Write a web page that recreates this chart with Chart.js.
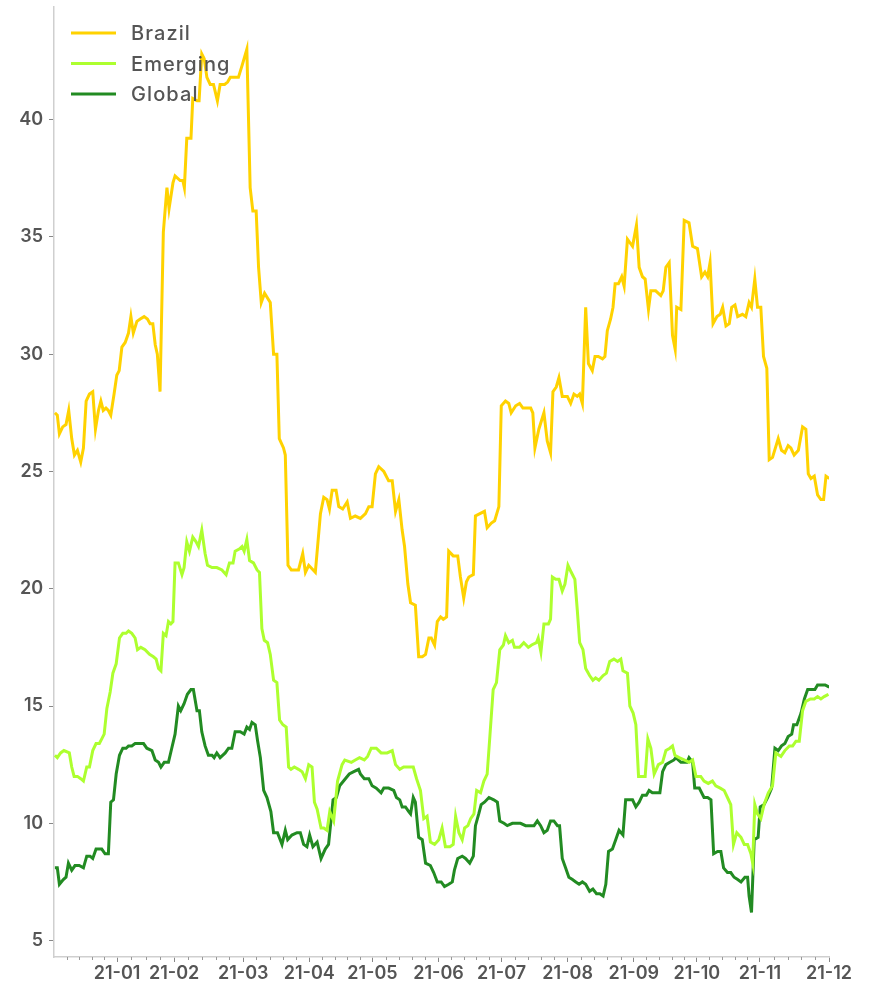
<!DOCTYPE html>
<html lang="en">
  <head>
    <meta charset="UTF-8" />
    <title>Brazil / Emerging / Global</title>
    <style>
      body {
        margin: 0;
        background: #fff;
      }
      #chart {
        display: block;
      }
    </style>
  </head>
  <body>
    <canvas id="chart" width="871" height="981"></canvas>

    <script src="https://cdn.jsdelivr.net/npm/chart.js"></script>
    <script>
      // x = trading-day position since the start of the series
      const monthTicks = [21, 40, 63, 85, 106, 128, 149, 171, 193, 214, 235, 258];
      const monthLabels = ["21-01", "21-02", "21-03", "21-04", "21-05", "21-06",
        "21-07", "21-08", "21-09", "21-10", "21-11", "21-12"];
      const yTicks = [5, 10, 15, 20, 25, 30, 35, 40];

      const brazil = [
        [0.3, 27.5], [1.1, 27.4], [1.8, 26.6], [2.9, 26.9], [4.0, 27.0], [4.9, 27.6], [5.9, 26.4],
        [6.8, 25.7], [7.8, 25.9], [8.9, 25.4], [9.8, 26.0], [10.7, 28.0], [11.8, 28.3], [12.9, 28.4],
        [13.8, 26.8], [14.8, 27.6], [15.6, 28.0], [16.4, 27.6], [17.3, 27.7], [18.1, 27.6], [18.9, 27.4],
        [20.0, 28.3], [20.9, 29.1], [21.7, 29.3], [22.6, 30.3], [23.7, 30.5], [24.8, 30.9], [25.6, 31.6],
        [26.4, 30.9], [27.6, 31.4], [28.7, 31.5], [30.0, 31.6], [31.1, 31.5], [32.0, 31.3], [32.9, 31.3],
        [33.7, 30.4], [34.4, 30.0], [35.3, 28.4], [36.4, 35.2], [37.6, 37.1], [38.3, 36.2], [39.6, 37.3],
        [40.3, 37.6], [42.0, 37.4], [42.9, 37.4], [43.4, 37.1], [44.2, 39.2], [45.6, 39.2], [46.2, 40.9],
        [47.6, 40.8], [48.3, 40.8], [49.2, 42.8], [50.0, 42.6], [50.9, 41.8], [52.0, 41.5], [53.1, 41.5],
        [54.4, 40.8], [55.3, 41.5], [56.8, 41.5], [57.8, 41.6], [58.7, 41.8], [61.4, 41.8], [62.6, 42.3],
        [64.2, 43.0], [65.3, 37.1], [66.2, 36.1], [67.3, 36.1], [68.1, 33.7], [69.0, 32.2], [70.1, 32.6],
        [72.0, 32.2], [73.1, 30.0], [74.2, 30.0], [75.0, 26.4], [76.4, 26.0], [77.0, 25.7], [77.9, 21.0],
        [79.0, 20.8], [81.4, 20.8], [82.8, 21.5], [83.7, 20.7], [84.8, 21.0], [87.0, 20.7], [88.7, 23.2],
        [89.8, 23.9], [90.9, 23.8], [91.7, 23.4], [92.6, 24.2], [93.9, 24.2], [94.8, 23.5], [96.1, 23.4],
        [97.6, 23.7], [98.7, 23.0], [100.3, 23.1], [102.0, 23.0], [103.7, 23.2], [104.8, 23.5], [105.9, 23.5],
        [107.0, 24.9], [108.1, 25.2], [109.8, 25.0], [111.4, 24.6], [112.6, 24.6], [113.7, 23.3], [114.8, 23.8],
        [115.9, 22.5], [116.7, 21.8], [117.8, 20.2], [118.7, 19.4], [120.3, 19.3], [121.4, 17.1], [122.6, 17.1],
        [123.7, 17.2], [124.8, 17.9], [125.6, 17.9], [126.7, 17.6], [127.6, 18.6], [128.7, 18.8], [129.6, 18.7],
        [130.7, 18.8], [131.4, 21.6], [132.9, 21.4], [134.4, 21.4], [135.3, 20.5], [136.4, 19.6], [137.3, 20.3],
        [138.1, 20.5], [139.6, 20.6], [140.3, 23.1], [141.8, 23.2], [143.3, 23.3], [144.2, 22.6], [145.6, 22.8],
        [146.7, 22.9], [148.1, 23.5], [148.9, 27.8], [150.3, 28.0], [151.4, 27.9], [152.2, 27.5], [153.7, 27.8],
        [155.0, 27.9], [156.1, 27.7], [157.6, 27.7], [158.7, 27.7], [159.4, 27.5], [160.1, 26.0], [161.4, 26.8],
        [163.1, 27.5], [164.2, 26.3], [165.3, 25.8], [166.1, 28.4], [167.2, 28.6], [168.1, 29.0], [169.2, 28.2],
        [170.9, 28.2], [172.0, 27.9], [173.1, 28.3], [174.2, 28.2], [175.0, 28.3], [175.9, 27.9], [177.0, 32.0],
        [177.9, 29.6], [179.2, 29.3], [180.1, 29.9], [181.2, 29.9], [182.6, 29.8], [183.4, 29.9], [184.2, 31.0],
        [185.3, 31.5], [186.1, 32.0], [186.8, 33.0], [187.9, 33.0], [189.0, 33.3], [189.8, 32.9], [190.9, 34.9],
        [192.6, 34.6], [193.9, 35.5], [194.8, 33.7], [195.9, 33.3], [196.8, 33.2], [197.9, 31.9], [198.7, 32.7],
        [200.3, 32.7], [202.0, 32.5], [202.8, 32.7], [203.7, 33.7], [204.8, 33.9], [205.9, 30.8], [206.8, 30.2],
        [207.3, 32.0], [208.7, 31.9], [209.8, 35.7], [211.4, 35.6], [212.6, 34.6], [214.2, 34.5], [215.6, 33.3],
        [216.7, 33.5], [217.6, 33.3], [218.4, 33.9], [219.4, 31.3], [220.7, 31.6], [221.8, 31.7], [222.6, 32.0],
        [223.7, 31.2], [224.8, 31.3], [225.6, 32.0], [226.7, 32.1], [227.6, 31.6], [229.2, 31.7], [230.3, 31.6],
        [231.4, 32.2], [232.2, 32.0], [233.3, 33.2], [234.2, 32.0], [235.3, 32.0], [236.2, 29.9], [237.3, 29.4],
        [238.1, 25.5], [239.2, 25.6], [241.1, 26.4], [242.2, 25.9], [243.3, 25.8], [244.4, 26.1], [245.3, 26.0],
        [246.4, 25.7], [247.8, 25.9], [249.2, 26.9], [250.3, 26.8], [251.1, 24.9], [252.0, 24.7], [253.1, 24.8],
        [254.2, 24.0], [255.3, 23.8], [256.2, 23.8], [257.0, 24.8], [258.1, 24.7]
      ];

      const emerging = [
        [0.3, 12.9], [1.1, 12.8], [2.2, 13.0], [3.3, 13.1], [5.1, 13.0], [5.9, 12.4], [6.7, 12.0],
        [7.8, 12.0], [8.9, 11.9], [9.8, 11.8], [10.9, 12.4], [11.8, 12.4], [12.9, 13.1], [14.0, 13.4],
        [15.1, 13.4], [15.9, 13.6], [16.7, 13.8], [17.6, 14.9], [18.7, 15.6], [19.6, 16.4], [20.7, 16.8],
        [21.8, 17.9], [22.9, 18.1], [24.0, 18.1], [24.8, 18.2], [25.9, 18.1], [27.0, 17.9], [27.8, 17.4],
        [28.9, 17.5], [30.3, 17.4], [31.8, 17.2], [33.1, 17.1], [34.0, 17.0], [34.8, 16.6], [35.6, 16.5],
        [36.4, 18.1], [37.3, 18.0], [38.1, 18.6], [38.9, 18.5], [39.6, 18.6], [40.3, 21.1], [41.4, 21.1],
        [42.6, 20.6], [43.3, 20.9], [44.2, 22.0], [45.1, 21.6], [46.2, 22.2], [47.3, 22.0], [48.1, 21.8],
        [49.2, 22.5], [50.3, 21.5], [51.1, 21.0], [52.6, 20.9], [54.2, 20.9], [55.9, 20.8], [57.3, 20.6],
        [58.4, 21.1], [59.6, 21.1], [60.3, 21.6], [61.8, 21.7], [62.6, 21.8], [63.3, 21.6], [64.2, 22.1],
        [65.1, 21.2], [66.4, 21.1], [67.6, 20.8], [68.4, 20.7], [69.2, 18.3], [70.0, 17.8], [71.1, 17.7],
        [72.0, 17.2], [73.1, 16.1], [74.2, 16.0], [75.1, 14.4], [76.2, 14.2], [77.3, 14.1], [78.1, 12.4],
        [78.9, 12.3], [80.0, 12.4], [81.4, 12.3], [82.6, 12.2], [83.7, 11.9], [84.8, 12.5], [85.9, 12.4],
        [86.7, 10.9], [87.6, 10.6], [88.9, 9.8], [89.8, 9.8], [90.9, 9.7], [91.8, 10.5], [93.1, 10.1],
        [94.4, 11.8], [95.9, 12.5], [96.8, 12.7], [99.0, 12.6], [100.3, 12.7], [101.7, 12.8], [103.3, 12.7],
        [104.4, 12.85], [105.6, 13.2], [107.3, 13.2], [108.9, 13.0], [110.9, 13.0], [112.6, 13.1], [113.7, 12.5],
        [115.1, 12.3], [116.4, 12.4], [118.1, 12.4], [119.6, 12.4], [120.7, 11.9], [122.0, 11.4], [123.1, 10.2],
        [124.2, 10.3], [125.3, 9.2], [126.7, 9.1], [128.1, 9.3], [129.2, 9.8], [130.3, 9.0], [131.8, 9.0],
        [132.9, 9.1], [133.7, 10.3], [134.8, 9.6], [135.9, 9.3], [136.7, 9.8], [137.8, 9.9], [138.7, 10.2],
        [139.8, 10.4], [140.7, 11.4], [142.0, 11.3], [143.1, 11.8], [144.2, 12.1], [145.1, 13.7], [146.2, 15.7],
        [147.3, 16.0], [148.4, 17.4], [149.6, 17.6], [150.3, 18.0], [151.4, 17.7], [152.6, 17.8], [153.3, 17.5],
        [155.0, 17.5], [156.4, 17.7], [157.9, 17.5], [159.0, 17.6], [160.6, 17.7], [161.2, 17.9], [162.1, 17.3],
        [163.1, 18.5], [164.6, 18.5], [165.3, 18.7], [165.9, 20.5], [167.0, 20.4], [168.1, 20.4], [169.2, 19.9],
        [170.1, 20.2], [171.1, 21.0], [172.2, 20.7], [173.4, 20.4], [174.2, 19.1], [175.0, 17.7], [176.1, 17.4],
        [177.0, 16.6], [178.3, 16.3], [179.4, 16.1], [180.3, 16.2], [181.4, 16.1], [182.8, 16.3], [183.9, 16.4],
        [185.0, 16.9], [186.4, 17.0], [187.6, 16.9], [188.7, 17.0], [189.4, 16.5], [190.9, 16.4], [191.7, 15.0],
        [192.8, 14.7], [193.7, 14.2], [194.6, 12.0], [195.7, 12.0], [196.8, 12.0], [197.7, 13.6], [198.7, 13.2],
        [199.8, 12.1], [201.2, 12.5], [202.6, 12.6], [203.7, 13.1], [205.0, 13.2], [205.9, 13.3], [206.7, 12.9],
        [208.1, 12.8], [209.8, 12.7], [211.4, 12.6], [212.6, 12.7], [213.7, 12.0], [215.3, 12.0], [216.4, 11.8],
        [217.8, 11.7], [219.2, 11.8], [220.3, 11.6], [221.8, 11.5], [223.1, 11.4], [224.2, 11.1], [225.3, 10.8],
        [226.2, 9.1], [227.3, 9.6], [228.7, 9.4], [229.8, 9.1], [230.9, 9.1], [232.0, 8.7], [232.6, 8.3],
        [233.3, 10.8], [234.2, 10.4], [235.3, 10.2], [236.4, 10.8], [237.8, 11.3], [239.2, 11.6], [240.3, 13.0],
        [242.0, 12.85], [243.3, 13.1], [244.8, 13.3], [245.9, 13.3], [247.0, 13.5], [248.1, 13.5], [249.2, 14.8],
        [250.3, 15.2], [251.8, 15.3], [253.1, 15.3], [254.2, 15.4], [255.3, 15.3], [256.4, 15.4], [257.8, 15.5]
      ];

      const global = [
        [0.3, 8.1], [1.1, 8.1], [1.8, 7.4], [3.1, 7.6], [4.0, 7.7], [4.8, 8.3], [5.9, 8.0], [7.0, 8.2],
        [8.4, 8.2], [9.8, 8.1], [10.9, 8.6], [12.0, 8.6], [12.9, 8.5], [14.0, 8.9], [15.1, 8.9], [15.9, 8.9],
        [17.0, 8.7], [18.1, 8.7], [18.9, 10.9], [19.8, 11.0], [20.7, 12.1], [21.8, 12.9], [22.9, 13.2],
        [24.0, 13.2], [24.8, 13.3], [25.9, 13.3], [27.0, 13.4], [28.7, 13.4], [29.8, 13.4], [30.9, 13.2],
        [32.6, 13.1], [33.7, 12.7], [34.8, 12.6], [35.6, 12.4], [36.7, 12.6], [38.1, 12.6], [39.2, 13.2],
        [40.3, 13.8], [41.4, 15.0], [42.2, 14.8], [43.3, 15.1], [44.4, 15.5], [45.6, 15.7], [46.4, 15.7],
        [47.6, 14.8], [48.4, 14.8], [49.2, 13.9], [50.3, 13.3], [51.4, 12.9], [52.6, 12.9], [53.3, 12.8],
        [54.2, 13.0], [55.3, 12.8], [57.0, 13.0], [58.1, 13.2], [59.2, 13.2], [60.3, 13.9], [62.0, 13.9],
        [63.3, 13.8], [64.2, 14.1], [65.1, 14.0], [65.9, 14.3], [67.0, 14.2], [67.8, 13.5], [68.7, 12.8],
        [69.8, 11.4], [70.9, 11.1], [72.2, 10.5], [73.1, 9.6], [74.4, 9.6], [75.9, 9.1], [77.0, 9.7],
        [77.8, 9.3], [79.2, 9.5], [80.9, 9.6], [82.0, 9.6], [83.1, 9.1], [84.2, 9.0], [85.1, 9.5],
        [86.2, 9.0], [87.6, 9.2], [88.9, 8.5], [90.3, 8.9], [91.4, 9.1], [92.9, 11.0], [94.0, 11.1],
        [95.1, 11.6], [97.0, 11.9], [98.3, 12.1], [99.8, 12.2], [101.4, 12.3], [102.0, 12.1], [103.3, 11.9],
        [104.8, 11.9], [105.9, 11.6], [107.3, 11.5], [108.9, 11.3], [109.8, 11.5], [111.4, 11.5], [113.1, 11.4],
        [114.0, 11.1], [115.1, 11.0], [115.9, 10.7], [117.0, 10.7], [118.1, 10.5], [118.7, 10.4], [119.6, 11.1],
        [120.3, 10.9], [121.4, 9.4], [122.6, 9.3], [123.7, 8.3], [125.3, 8.2], [126.4, 7.9], [127.6, 7.5],
        [128.9, 7.5], [130.0, 7.3], [131.4, 7.4], [132.6, 7.5], [133.3, 8.0], [134.4, 8.5], [135.9, 8.6],
        [137.0, 8.5], [138.4, 8.3], [139.6, 8.6], [140.3, 9.9], [141.4, 10.4], [142.2, 10.8], [143.3, 10.9],
        [144.8, 11.1], [146.4, 11.0], [147.6, 10.9], [148.4, 10.1], [149.8, 10.0], [150.9, 9.9], [152.6, 10.0],
        [153.7, 10.0], [155.3, 10.0], [157.0, 9.9], [158.3, 9.9], [159.8, 9.9], [160.9, 10.1], [162.0, 9.9],
        [163.1, 9.6], [164.2, 9.7], [165.3, 10.1], [166.4, 10.1], [167.6, 9.9], [168.3, 9.9], [169.2, 8.5],
        [170.3, 8.1], [171.4, 7.7], [172.6, 7.6], [173.7, 7.5], [174.8, 7.4], [175.9, 7.5], [177.0, 7.4],
        [178.3, 7.1], [179.4, 7.2], [180.6, 7.0], [181.7, 7.0], [182.8, 6.9], [183.7, 7.4], [184.6, 8.8],
        [185.9, 8.9], [187.0, 9.3], [188.1, 9.7], [189.4, 9.5], [190.3, 11.0], [191.4, 11.0], [192.6, 11.0],
        [193.7, 10.7], [194.8, 10.9], [195.9, 11.2], [197.2, 11.2], [198.1, 11.4], [199.2, 11.3], [200.6, 11.3],
        [201.7, 11.3], [202.6, 12.2], [203.7, 12.5], [205.0, 12.6], [206.4, 12.7], [207.0, 12.8], [208.7, 12.6],
        [210.7, 12.6], [211.4, 12.8], [212.6, 12.6], [213.3, 11.5], [214.8, 11.5], [216.4, 11.1], [217.6, 11.1],
        [218.7, 11.0], [219.6, 8.7], [220.9, 8.8], [222.0, 8.8], [222.9, 8.1], [224.2, 7.9], [225.3, 7.9],
        [226.4, 7.7], [227.6, 7.6], [228.7, 7.5], [230.0, 7.7], [230.9, 7.7], [231.4, 6.9], [232.2, 6.2],
        [233.1, 9.3], [234.4, 9.4], [235.1, 10.7], [236.4, 10.8], [237.6, 11.1], [238.9, 11.5], [240.0, 13.2],
        [241.1, 13.1], [242.2, 13.3], [243.3, 13.4], [244.4, 13.7], [245.6, 13.8], [246.2, 14.2], [247.3, 14.2],
        [248.7, 14.7], [249.8, 15.3], [250.9, 15.7], [252.0, 15.7], [253.3, 15.7], [254.2, 15.9], [255.3, 15.9],
        [256.7, 15.9], [258.1, 15.8]
      ];

      const seriesNames = ["Brazil", "Emerging", "Global"];
      const seriesColors = ["#ffd200", "#adff2f", "#228b22"];
      const seriesData = [brazil, emerging, global];

      const textColor = "#555555";
      const fontFamily = "Inter, 'DejaVu Sans', sans-serif";

      // legend drawn inside the plot, on top of the lines
      const insideLegend = {
        id: "insideLegend",
        afterDatasetsDraw(chart) {
          const ctx = chart.ctx;
          ctx.save();
          ctx.font = "500 20px " + fontFamily;
          ctx.letterSpacing = "1.1px";
          ctx.textBaseline = "middle";
          chart.data.datasets.forEach((ds, i) => {
            const y = 33 + i * 30.5;
            ctx.strokeStyle = ds.borderColor;
            ctx.lineWidth = 3;
            ctx.beginPath();
            ctx.moveTo(71, y);
            ctx.lineTo(116, y);
            ctx.stroke();
            ctx.fillStyle = textColor;
            ctx.fillText(ds.label, 131, y + 1);
          });
          ctx.restore();
        },
      };

      // small weekly ticks between the month ticks
      const minorTicks = {
        id: "minorTicks",
        afterDraw(chart) {
          const x = chart.scales.x;
          const ctx = chart.ctx;
          const edges = [0].concat(monthTicks);
          ctx.save();
          ctx.strokeStyle = "#999";
          ctx.lineWidth = 1;
          for (let m = 0; m < edges.length - 1; m++) {
            const a = edges[m], b = edges[m + 1];
            const n = Math.max(1, Math.round((b - a) / 4.6));
            for (let k = 1; k < n; k++) {
              const px = Math.round(x.getPixelForValue(a + ((b - a) * k) / n)) + 0.5;
              ctx.beginPath();
              ctx.moveTo(px, x.top);
              ctx.lineTo(px, x.top + 3);
              ctx.stroke();
            }
          }
          ctx.restore();
        },
      };

      const ctx = document.getElementById("chart").getContext("2d");
      ctx.letterSpacing = "0.5px";
      new Chart(ctx, {
        type: "line",
        data: {
          datasets: seriesNames.map((name, i) => ({
            label: name,
            data: seriesData[i].map(([x, y]) => ({ x, y })),
            borderColor: seriesColors[i],
            backgroundColor: seriesColors[i],
            borderWidth: 3,
            pointRadius: 0,
            tension: 0,
            fill: false,
          })),
        },
        options: {
          responsive: false,
          animation: false,
          layout: { padding: { top: 7, right: 42, left: 0, bottom: 0 } },
          plugins: {
            legend: { display: false },
            tooltip: { enabled: false },
          },
          scales: {
            x: {
              type: "linear",
              min: 0,
              max: 258,
              afterBuildTicks: (s) => {
                s.ticks = monthTicks.map((v) => ({ value: v }));
              },
              afterFit: (s) => {
                s.height = 24;
              },
              ticks: {
                autoSkip: false,
                maxRotation: 0,
                padding: 1,
                color: textColor,
                font: { family: fontFamily, size: 18, weight: "600" },
                callback: (v) => monthLabels[monthTicks.indexOf(v)],
              },
              grid: { drawOnChartArea: false, tickLength: 5, color: "#888" },
              border: { color: "#cfcfcf", width: 1.5 },
            },
            y: {
              min: 4.3,
              max: 44.8,
              afterBuildTicks: (s) => {
                s.ticks = yTicks.map((v) => ({ value: v }));
              },
              afterFit: (s) => {
                s.width = 54;
                s.paddingTop = 0;
                s.paddingBottom = 0;
              },
              ticks: {
                padding: 6,
                color: textColor,
                font: { family: fontFamily, size: 18, weight: "600" },
              },
              grid: { drawOnChartArea: false, tickLength: 5, color: "#888" },
              border: { color: "#cfcfcf", width: 1.5 },
            },
          },
        },
        plugins: [insideLegend, minorTicks],
      });
    </script>
  </body>
</html>
